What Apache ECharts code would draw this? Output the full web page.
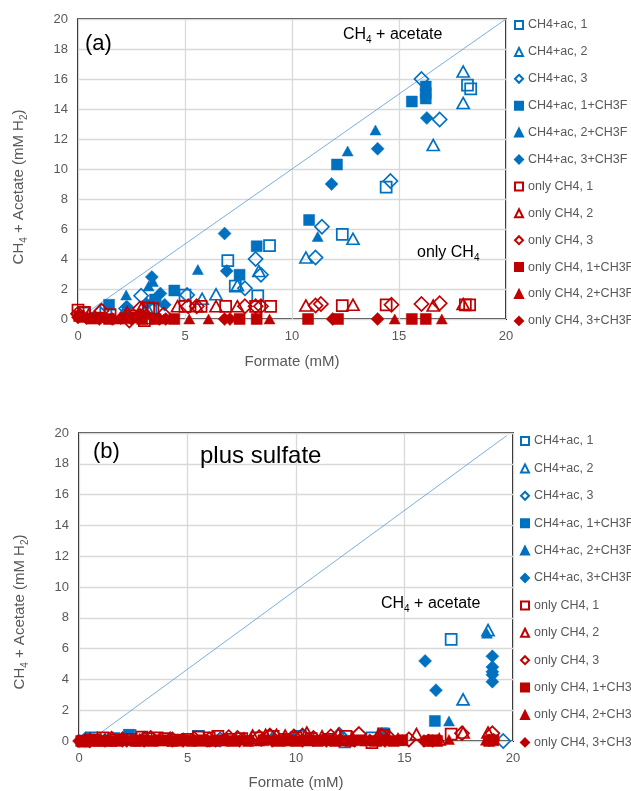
<!DOCTYPE html>
<html><head><meta charset="utf-8">
<script src="https://cdn.jsdelivr.net/npm/echarts@6/dist/echarts.min.js"></script>
<style>html,body{margin:0;padding:0;background:#fff}#c{width:631px;height:791px}</style>
</head><body><div id="c"></div>
<script>
// ---------- data ----------
const seriesNames = ['CH4+ac, 1','CH4+ac, 2','CH4+ac, 3','CH4+ac, 1+CH3F','CH4+ac, 2+CH3F','CH4+ac, 3+CH3F',
  'only CH4, 1','only CH4, 2','only CH4, 3','only CH4, 1+CH3F','only CH4, 2+CH3F','only CH4, 3+CH3F'];

// Panel (a): [formate mM, CH4+acetate mM H2]
const a_ac1  = [[18.35,15.35],[18.2,15.6],[14.4,8.8],[12.35,5.65],[8.95,4.9],[7.0,3.9],[8.4,1.55],[7.35,2.2],[5.0,1.6],[3.4,0.7],[1.3,0.6],[0.3,0.4]];
const a_ac2  = [[18.0,16.5],[18.0,14.4],[16.6,11.6],[12.85,5.35],[10.65,4.1],[7.45,2.25],[6.45,1.65],[5.8,1.35],[8.45,3.2],[2.3,0.5],[3.2,0.8]];
const a_ac3  = [[16.05,16.0],[16.9,13.3],[14.6,9.2],[11.4,6.15],[11.1,4.1],[8.3,4.0],[8.55,2.95],[7.8,2.05],[5.1,1.6],[2.95,1.55],[2.25,0.7],[1.0,0.4]];
const a_ac1F = [[16.25,15.5],[16.25,15.05],[16.25,14.7],[15.6,14.5],[12.1,10.3],[10.8,6.6],[8.35,4.85],[7.55,2.95],[4.5,1.9],[3.6,1.3],[1.45,0.95]];
const a_ac2F = [[13.9,12.6],[12.6,11.2],[11.2,5.5],[5.6,3.3],[3.3,2.2],[2.25,1.6],[3.5,2.5],[2.2,0.7]];
const a_ac3F = [[16.3,13.4],[14.0,11.35],[11.85,9.0],[6.85,5.7],[6.95,3.2],[3.45,2.8],[3.85,1.7],[4.05,0.95],[3.6,1.25],[2.3,0.8],[3.2,1.0]];
const a_o1   = [[18.3,0.95],[18.1,0.95],[14.4,0.95],[12.35,0.9],[9.0,0.85],[8.3,0.85],[6.9,0.85],[5.75,0.85],[5.0,0.85],[3.5,0.7],[3.3,0.75],[0.0,0.6],[0.3,0.45],[3.1,-0.1],[1.5,0.3],[2.5,0.2]];
const a_o2   = [[18.0,1.0],[16.6,0.9],[12.85,0.95],[10.65,0.9],[7.45,0.85],[6.45,0.85],[5.55,0.85],[4.65,0.85],[3.0,0.8],[2.3,0.45],[3.2,0.05],[0.5,0.3]];
const a_o3   = [[16.9,1.05],[16.05,1.0],[14.65,0.95],[11.35,1.0],[11.1,0.9],[8.55,0.85],[8.3,0.85],[7.8,0.85],[5.15,0.85],[5.55,0.85],[2.9,0.7],[1.1,0.55],[0.0,0.35],[2.4,-0.1],[4.0,0.3]];
const a_o1F  = [[16.25,0],[15.6,0],[12.15,0],[10.75,0],[8.35,0],[7.55,0],[4.5,0],[3.6,0],[3.0,0],[1.45,0],[0.05,0.2],[0.6,0.05],[2.2,0.05],[1.0,0.1],[2.7,0.1]];
const a_o2F  = [[17.0,0],[14.8,0],[8.95,0],[6.1,0],[5.2,0],[3.3,0.3],[2.3,0.1],[0.7,0],[1.9,0],[4.0,0],[0.3,0.1]];
const a_o3F  = [[14.0,0],[11.9,0],[6.85,0],[7.1,0],[4.1,0],[2.9,0.3],[1.6,0],[0.0,0.1],[3.8,0],[2.5,0],[1.0,0],[0.4,0.05],[2.0,0.05]];

// Panel (b): plus sulfate
const b_ac1  = [[17.15,6.6],[14.05,0.45],[13.5,0.2],[12.25,-0.05],[10.2,0.3],[5.5,0.3],[2.35,0.35],[0.6,0.2],[1.6,0.15]];
const b_ac2  = [[18.85,7.2],[17.7,2.7],[12.1,0.3],[8.9,0.2],[4.2,0.2],[1.0,0.1]];
const b_ac3  = [[19.55,0],[12.0,0.4],[6.5,0.1],[3.0,0.15],[0.3,0.1]];
const b_ac1F = [[16.4,1.3],[14.0,0.5],[2.3,0.4],[0.5,0.1]];
const b_ac2F = [[18.8,7.0],[17.05,1.3],[9.9,0.35],[3.5,0.1]];
const b_ac3F = [[15.95,5.2],[16.45,3.3],[19.05,5.5],[19.05,4.8],[19.05,4.5],[19.05,4.3],[19.05,3.85],[8.5,0.1],[1.2,0.1]];
const b_o1   = [[17.15,0.45],[14.05,0.35],[13.5,-0.1],[12.3,0.3],[10.0,0.2],[8.95,0.3],[7.5,0.15],[6.4,0.3],[5.5,0.25],[3.6,0.2],[3.2,0.15],[2.4,0.1],[1.7,0.05],[0.7,0.05],[0.2,0.0],[4.5,0.05],[1.1,0.2],[2.9,0.25],[4.0,0.15],[5.0,0.1],[6.0,0.2],[7.0,0.1],[8.2,0.2],[9.5,0.1],[10.7,0.15],[11.5,0.1]];
const b_o2   = [[18.85,0.55],[17.7,0.55],[15.55,0.45],[14.7,0.1],[13.8,0.4],[11.95,0.45],[11.2,0.3],[10.5,0.55],[9.5,0.35],[8.6,0.4],[8.0,0.35],[6.8,0.1],[5.8,0.05],[4.8,0.1],[2.8,0.05],[1.2,0.05],[0.3,0.1],[2.0,0.15],[3.7,0.1],[7.6,0.15],[9.1,0.4],[12.6,0.2],[16.6,0.1]];
const b_o3   = [[19.05,0.5],[17.65,0.5],[12.9,0.45],[13.95,0.35],[11.6,0.3],[10.3,0.35],[9.9,0.3],[8.8,0.35],[7.3,0.2],[6.0,0.1],[4.3,0.1],[2.0,0.1],[0.5,0.05],[14.3,0.2],[1.5,0.15],[3.3,0.2],[5.3,0.15],[6.9,0.25],[8.3,0.25],[10.8,0.2],[15.2,0.1]];
const b_o1F  = [[0.1,0],[0.9,0],[1.5,0],[2.6,0],[3.4,0],[4.3,0],[5.2,0],[6.2,0],[7.1,0],[7.8,0],[9.2,0],[10.0,0],[11.0,0],[11.8,0],[12.5,0],[13.7,0],[14.5,0],[16.1,0],[16.5,0],[18.9,0],[0.5,0.05],[2.0,0.05],[3.0,0.05],[3.8,0.05],[4.8,0.05],[5.7,0.05],[6.6,0.05],[8.5,0.05],[9.6,0.05],[10.5,0.05],[11.4,0.05],[13.0,0.05],[14.0,0.05],[14.9,0.05],[16.3,0.05],[19.1,0.05]];
const b_o2F  = [[0.4,0],[1.8,0],[2.9,0],[3.9,0],[5.6,0],[6.7,0],[8.3,0],[9.6,0],[10.6,0],[12.2,0],[13.2,0],[14.7,0.05],[17.05,0.1],[18.75,0.05],[19.0,0.15],[1.0,0.1],[2.4,0.1],[4.5,0.1],[6.2,0.1],[7.5,0.1],[9.0,0.1],[11.2,0.1],[13.8,0.1],[14.9,0.1]];
const b_o3F  = [[0.0,0],[1.2,0],[2.2,0],[3.0,0],[4.8,0],[5.9,0],[6.3,0],[7.4,0],[8.9,0],[10.3,0],[11.4,0],[12.7,0],[14.1,0],[15.9,0],[16.3,0],[18.9,0.05],[19.1,0.1],[0.7,0.05],[1.7,0.05],[2.6,0.05],[3.5,0.05],[4.1,0.05],[5.3,0.05],[6.8,0.05],[7.9,0.05],[8.4,0.05],[9.5,0.05],[10.8,0.05],[12.0,0.05],[13.4,0.05],[16.1,0.05]];

// 1:1 reference lines
const diagonalA = [[0,0],[20,20]];
const diagonalB = [[0.12,-0.37],[19.71,19.83]];

const panelA = [a_ac1,a_ac2,a_ac3,a_ac1F,a_ac2F,a_ac3F,a_o1,a_o2,a_o3,a_o1F,a_o2F,a_o3F];
const panelB = [b_ac1,b_ac2,b_ac3,b_ac1F,b_ac2F,b_ac3F,b_o1,b_o2,b_o3,b_o1F,b_o2F,b_o3F];

// ---------- styles ----------
const BLUE = '#0070C0', RED = '#C00000';
const markerStyles = [
  {symbol:'rect', size:11, open:true},
  {symbol:'triangle', size:[12,11], open:true},
  {symbol:'diamond', size:14, open:true},
  {symbol:'rect', size:11, open:false},
  {symbol:'triangle', size:[11,10], open:false},
  {symbol:'diamond', size:13, open:false}
];
const FONT = 'Liberation Sans';
const GRAY = '#595959';

function makeSeries(dataList, idx) {
  return dataList.map((d, i) => {
    const m = markerStyles[i % 6];
    const c = i < 6 ? BLUE : RED;
    return {
      type:'scatter', name: seriesNames[i], xAxisIndex: idx, yAxisIndex: idx,
      data: d, symbol: m.symbol, symbolSize: m.size, clip:false,
      itemStyle: m.open ? {color:'rgba(255,255,255,0)', borderColor:c, borderWidth:1.75, opacity:1}
                        : {color:c, borderColor:c, borderWidth:0.5, opacity:1},
      emphasis:{disabled:true}
    };
  });
}
function lineSeries(d, idx){
  return {type:'line', name:'1:1', xAxisIndex:idx, yAxisIndex:idx, data:d, showSymbol:false, symbol:'none',
    clip:false, silent:true, lineStyle:{color:'#5B9BD5', width:0.8}, z:1};
}

const grids = [
  {left:78, top:19, width:428, height:300},
  {left:79, top:433, width:434, height:308}
];
function xAxis(i){
  return {type:'value', gridIndex:i, min:0, max:20, interval:5,
    axisLine:{show:false}, axisTick:{show:false},
    axisLabel:{color:GRAY, fontFamily:FONT, fontSize:13, margin:11},
    splitLine:{lineStyle:{color:'#D9D9D9', width:1.3}}};
}
function yAxis(i){
  return {type:'value', gridIndex:i, min:0, max:20, interval:2,
    axisLine:{show:false}, axisTick:{show:false},
    axisLabel:{color:GRAY, fontFamily:FONT, fontSize:13, margin:10},
    splitLine:{lineStyle:{color:'#D9D9D9', width:1.3}}};
}
function legend(left, top, gap){
  return {orient:'vertical', left:left, top:top, itemGap:gap, itemWidth:8, itemHeight:8,
    data: seriesNames, selectedMode:false, padding:0,
    textStyle:{color:GRAY, fontFamily:FONT, fontSize:12.5, lineHeight:14, height:14}};
}
const richBase = (fs, col) => ({
  n:{fontSize:fs, fontFamily:FONT, color:col, lineHeight:fs+5},
  s:{fontSize:Math.round(fs*0.65), fontFamily:FONT, color:col, lineHeight:Math.round(fs*0.65)+2, verticalAlign:'bottom'}
});
function txt(x, y, text, fs, col){
  return {type:'text', x:x, y:y, silent:true, z:100,
    style:{text:text, rich:richBase(fs,col), fontSize:fs, fontFamily:FONT, fill:col, align:'left', verticalAlign:'middle'}};
}
function ctxt(x, y, text, fs, col, rot){
  return {type:'text', x:x, y:y, rotation:rot||0, silent:true, z:100,
    style:{text:text, rich:richBase(fs,col), fontSize:fs, fontFamily:FONT, fill:col, align:'center', verticalAlign:'middle'}};
}

const option = {
  animation:false,
  backgroundColor:'#fff',
  grid: grids.map(g => Object.assign({show:true, borderColor:'#000', borderWidth:1.75, backgroundColor:'transparent'}, g)),
  xAxis:[xAxis(0), xAxis(1)],
  yAxis:[yAxis(0), yAxis(1)],
  legend:[legend(514,18,12.9), legend(520,434,13.4)],
  series:[lineSeries(diagonalA,0), ...makeSeries(panelA,0), lineSeries(diagonalB,1), ...makeSeries(panelB,1)],
  graphic:[
    txt(85, 43.5, '{n|(a)}', 22, '#000'),
    txt(343, 34.5, '{n|CH}{s|4}{n| + acetate}', 16, '#000'),
    txt(417, 252.5, '{n|only CH}{s|4}', 16, '#000'),
    txt(93, 452, '{n|(b)}', 22, '#000'),
    txt(200, 456, '{n|plus sulfate}', 24, '#000'),
    txt(381, 603.5, '{n|CH}{s|4}{n| + acetate}', 16, '#000'),
    ctxt(292, 362, '{n|Formate (mM)}', 15, GRAY),
    ctxt(296, 783, '{n|Formate (mM)}', 15, GRAY),
    ctxt(19, 187, '{n|CH}{s|4}{n| + Acetate (mM H}{s|2}{n|)}', 15, GRAY, Math.PI/2),
    ctxt(20, 612, '{n|CH}{s|4}{n| + Acetate (mM H}{s|2}{n|)}', 15, GRAY, Math.PI/2)
  ]
};
const chart = echarts.init(document.getElementById('c'), null, {renderer:'canvas'});
chart.setOption(option);
</script></body></html>
